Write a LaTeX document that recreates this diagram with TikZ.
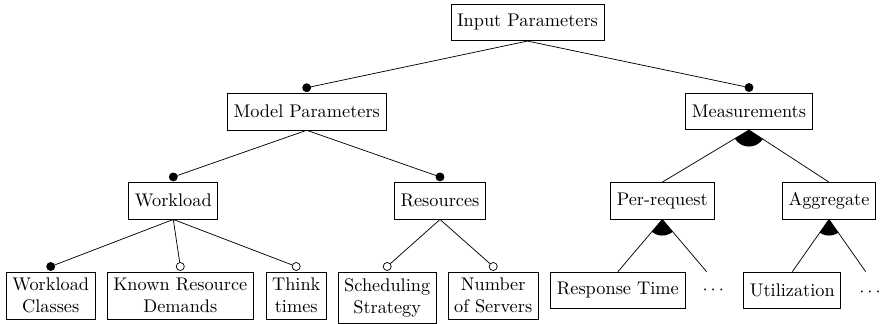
\documentclass[tikz,border=0pt]{standalone}
\usetikzlibrary{calc}
\begin{document}
\begin{tikzpicture}[x=0.5464pt, y=-0.5464pt,
  box/.style={draw, rectangle, minimum height=20pt, align=center, inner sep=3.33pt},
  leaf/.style={box, anchor=north},
  mand/.style={circle, draw, fill=black, inner sep=0pt, minimum size=4.4pt},
  opt/.style={circle, draw, fill=white, inner sep=0pt, minimum size=4.4pt},
  conn/.style={line width=0.4pt},
  grp/.style={fill=black}
]
\useasboundingbox (0,0) rectangle (880,324);

% main nodes
\node[box] (inp) at (527.5,22.4) {Input Parameters};
\node[box] (model) at (306.7,111.6) {Model Parameters};
\node[box] (meas) at (749,111.4) {Measurements};
\node[box] (wl) at (173.3,200.8) {Workload};
\node[box] (res) at (440,200.8) {Resources};
\node[box] (perreq) at (662.3,200.8) {Per-request};
\node[box] (aggr) at (829,200.8) {Aggregate};

% leaves
\node[leaf] (wc) at (50.7,271.7) {Workload\\Classes};
\node[leaf] (krd) at (180.3,271.7) {Known Resource\\Demands};
\node[leaf] (tt) at (296.2,271.7) {Think\\times};
\node[leaf] (ss) at (387.2,271.7) {Scheduling\\Strategy};
\node[leaf] (ns) at (493.2,271.7) {Number\\of Servers};
\node[leaf] (rt) at (617.9,271.7) {Response Time};
\node[leaf] (ut) at (792.3,271.7) {Utilization};

\coordinate (d1x) at (713.3,0);
\coordinate (d2x) at (870,0);
\node[anchor=base, inner sep=0pt] (dots1) at (rt.base -| d1x) {$\cdots$};
\node[anchor=base, inner sep=0pt] (dots2) at (ut.base -| d2x) {$\cdots$};
\coordinate (pe) at (706.6,271.7);
\coordinate (ae) at (865.7,271.7);

% feature markers
\node[mand] (model-d) at ($(model.north)+(0,-5.2)$) {};
\node[mand] (meas-d) at ($(meas.north)+(0,-5.2)$) {};
\node[mand] (wl-d) at ($(wl.north)+(0,-5.2)$) {};
\node[mand] (res-d) at ($(res.north)+(0,-5.2)$) {};
\node[mand] (wc-d) at ($(wc.north)+(0,-5.2)$) {};
\node[opt] (krd-d) at ($(krd.north)+(0,-5.2)$) {};
\node[opt] (tt-d) at ($(tt.north)+(0,-5.2)$) {};
\node[opt] (ss-d) at ($(ss.north)+(0,-5.2)$) {};
\node[opt] (ns-d) at ($(ns.north)+(0,-5.2)$) {};

% connectors
\draw[conn] (inp.south) -- (model-d);
\draw[conn] (inp.south) -- (meas-d);
\draw[conn] (model.south) -- (wl-d);
\draw[conn] (model.south) -- (res-d);
\draw[conn] (wl.south) -- (wc-d);
\draw[conn] (wl.south) -- (krd-d);
\draw[conn] (wl.south) -- (tt-d);
\draw[conn] (res.south) -- (ss-d);
\draw[conn] (res.south) -- (ns-d);

\draw[conn] (meas.south) -- (perreq.north);
\draw[conn] (meas.south) -- (aggr.north);
\draw[conn] (perreq.south) -- (rt.north);
\draw[conn] (perreq.south) -- (pe);
\draw[conn] (aggr.south) -- (ut.north);
\draw[conn] (aggr.south) -- (ae);

% group arcs
\begin{scope}
  \clip (meas.south) -- (perreq.north) -- (aggr.north) -- cycle;
  \fill[grp] (meas.south) circle[radius=9pt];
\end{scope}
\begin{scope}
  \clip (perreq.south) -- (rt.north) -- (pe) -- cycle;
  \fill[grp] (perreq.south) circle[radius=8.8pt];
\end{scope}
\begin{scope}
  \clip (aggr.south) -- (ut.north) -- (ae) -- cycle;
  \fill[grp] (aggr.south) circle[radius=8.8pt];
\end{scope}
\end{tikzpicture}
\end{document}
